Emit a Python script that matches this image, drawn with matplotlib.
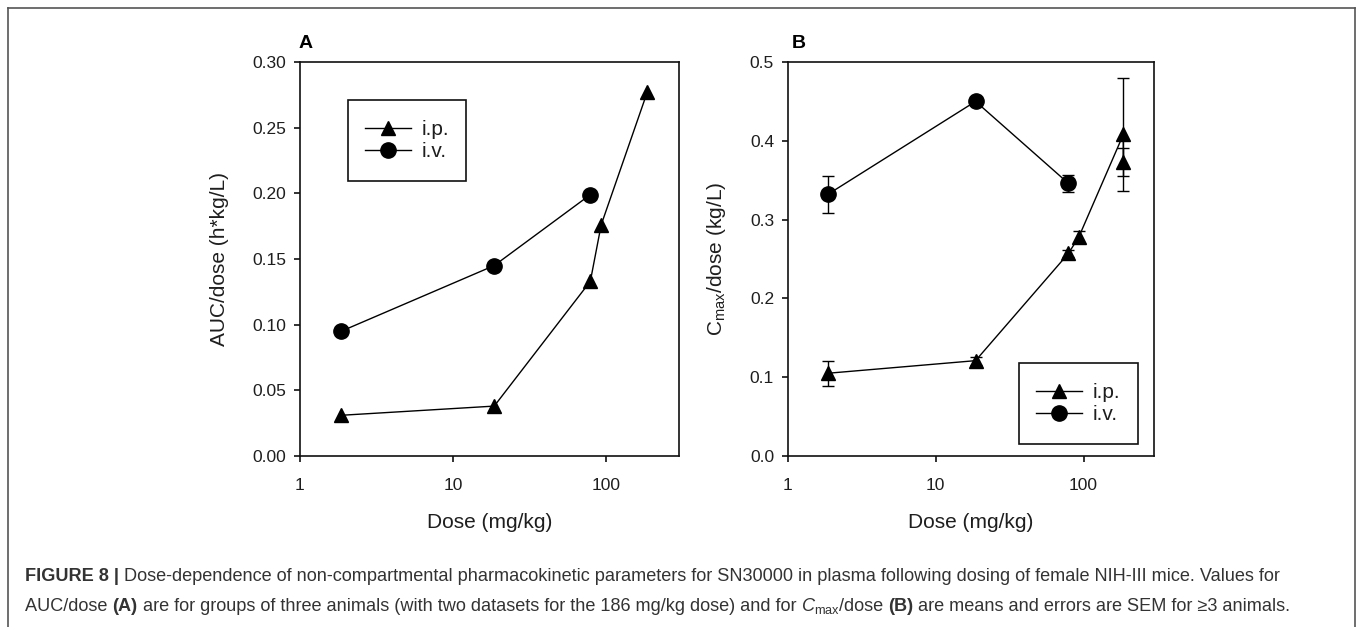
import numpy as np
import matplotlib
matplotlib.use('Agg')
import matplotlib.pyplot as plt
from matplotlib.lines import Line2D
from matplotlib.patches import Rectangle
from matplotlib.ticker import FixedLocator, FixedFormatter, NullLocator, FormatStrFormatter

plt.rcParams['font.family'] = ['Liberation Sans', 'DejaVu Sans']
plt.rcParams['mathtext.fontset'] = 'custom'
plt.rcParams['mathtext.rm'] = 'Liberation Sans'
plt.rcParams['mathtext.it'] = 'Liberation Sans:italic'
plt.rcParams['mathtext.bf'] = 'Liberation Sans:bold'

# --- данные панели A: AUC/dose ---
dose_ip_a = [1.86, 18.6, 79, 93, 186]
auc_ip = [0.031, 0.038, 0.133, 0.176, 0.277]
dose_iv_a = [1.86, 18.6, 79]
auc_iv = [0.095, 0.145, 0.199]

# --- данные панели B: Cmax/dose (среднее ± SEM) ---
dose_ip_b = [1.86, 18.6, 79, 93, 186, 186]
cmax_ip = [0.105, 0.121, 0.257, 0.278, 0.408, 0.373]
cmax_ip_sem = [0.016, 0.005, 0.004, 0.008, 0.072, 0.018]
dose_iv_b = [1.86, 18.6, 79]
cmax_iv = [0.332, 0.450, 0.346]
cmax_iv_sem = [0.023, 0.004, 0.011]

x_ticks = [1, 10, 100]
x_ticklabels = ['1', '10', '100']

W, H = 1357, 627
fig = plt.figure(figsize=(W / 100, H / 100), dpi=100)

TXT = '#1e1e1e'
ax_a = fig.add_axes([300 / W, 1 - 456 / H, 379 / W, 394 / H])
ax_b = fig.add_axes([788 / W, 1 - 456 / H, 366 / W, 394 / H])

TRI = 10
CIRC = 11


def style_axis(ax, yticks, fmt):
    ax.set_xscale('log')
    ax.set_xlim(1, 300)
    ax.xaxis.set_major_locator(FixedLocator(x_ticks))
    ax.xaxis.set_major_formatter(FixedFormatter(x_ticklabels))
    ax.xaxis.set_minor_locator(NullLocator())
    ax.set_yticks(yticks)
    ax.yaxis.set_major_formatter(FormatStrFormatter(fmt))
    ax.set_ylim(yticks[0], yticks[-1])
    for sp in ax.spines.values():
        sp.set_linewidth(1.2)
        sp.set_color('#111111')
    ax.tick_params(axis='both', direction='out', length=4, width=1.2,
                   labelsize=12.5, labelcolor=TXT, color='#111111')
    ax.tick_params(axis='x', pad=12)
    ax.tick_params(axis='y', pad=6)
    ax.set_xlabel('Dose (mg/kg)', fontsize=15, color=TXT, labelpad=14)


def legend_box(ax, x0, y0, x1, y1, handles):
    ax.add_patch(Rectangle((x0, y0), x1 - x0, y1 - y0, transform=ax.transAxes,
                           fill=False, edgecolor='#111111', linewidth=1.2,
                           zorder=5, clip_on=False))
    ax.legend(handles=handles, loc='center', bbox_to_anchor=((x0 + x1) / 2, (y0 + y1) / 2),
              frameon=False, fontsize=15, handlelength=2.2, handletextpad=0.5,
              labelspacing=0.15, numpoints=1, labelcolor=TXT)


line_kw = dict(color='black', linewidth=1.0)
handles = [
    Line2D([0], [0], marker='^', markersize=TRI, label='i.p.', **line_kw),
    Line2D([0], [0], marker='o', markersize=CIRC, label='i.v.', **line_kw),
]

# Панель A
style_axis(ax_a, np.arange(0, 0.301, 0.05), '%.2f')
ax_a.plot(dose_ip_a, auc_ip, marker='^', markersize=TRI, **line_kw)
ax_a.plot(dose_iv_a, auc_iv, marker='o', markersize=CIRC, **line_kw)
ax_a.set_ylabel('AUC/dose (h*kg/L)', fontsize=15, color=TXT)
ax_a.yaxis.set_label_coords(-0.187, 0.5)
legend_box(ax_a, 0.126, 0.698, 0.438, 0.904, handles)
ax_a.text(-0.005, 1.035, 'A', transform=ax_a.transAxes, fontsize=14,
          fontweight='bold', ha='left', va='baseline')

# Панель B
style_axis(ax_b, np.arange(0, 0.501, 0.1), '%.1f')
ax_b.errorbar(dose_ip_b, cmax_ip, yerr=cmax_ip_sem, marker='^', markersize=TRI,
              capsize=4.3, elinewidth=1.0, capthick=1.0, **line_kw)
ax_b.errorbar(dose_iv_b, cmax_iv, yerr=cmax_iv_sem, marker='o', markersize=CIRC,
              capsize=4.3, elinewidth=1.0, capthick=1.0, **line_kw)
ax_b.set_ylabel(r'C$_{\mathrm{max}}$/dose (kg/L)', fontsize=15, color=TXT)
ax_b.yaxis.set_label_coords(-0.163, 0.5)
legend_box(ax_b, 0.631, 0.030, 0.956, 0.236, handles)
ax_b.text(0.01, 1.035, 'B', transform=ax_b.transAxes, fontsize=14,
          fontweight='bold', ha='left', va='baseline')

# Рамка вокруг рисунка
for xs, ys in [([8, 8], [8, H]), ([1355, 1355], [8, H]), ([8, 1355], [8, 8])]:
    fig.add_artist(Line2D([x / W for x in xs], [1 - y / H for y in ys],
                          color='#555555', linewidth=1.2))

# Подпись к рисунку (кусками разного начертания)
renderer = fig.canvas.get_renderer()
CAP = '#333333'
CAP_SIZE = 13.1


def piece_width(s, weight):
    t1 = fig.text(0, 0, '.' + s + '.', fontsize=CAP_SIZE, weight=weight)
    t2 = fig.text(0, 0, '..', fontsize=CAP_SIZE, weight=weight)
    w = t1.get_window_extent(renderer).width - t2.get_window_extent(renderer).width
    t1.remove()
    t2.remove()
    return w


def caption_line(x_px, y_px, pieces):
    x = x_px
    for s, weight in pieces:
        fig.text(x / W, 1 - y_px / H, s, fontsize=CAP_SIZE, weight=weight,
                 color=CAP, ha='left', va='baseline')
        x += piece_width(s, weight)


caption_line(25, 581, [
    ('FIGURE 8 | ', 'bold'),
    ('Dose-dependence of non-compartmental pharmacokinetic parameters for SN30000 '
     'in plasma following dosing of female NIH-III mice. Values for', 'normal'),
])
caption_line(25, 611, [
    ('AUC/dose ', 'normal'),
    ('(A)', 'bold'),
    (' are for groups of three animals (with two datasets for the 186 mg/kg dose) and for ',
     'normal'),
    (r'$C_{\mathrm{max}}$', 'normal'),
    ('/dose ', 'normal'),
    ('(B)', 'bold'),
    (' are means and errors are SEM for \u22653 animals.', 'normal'),
])

fig.savefig('out.png', dpi=100)
